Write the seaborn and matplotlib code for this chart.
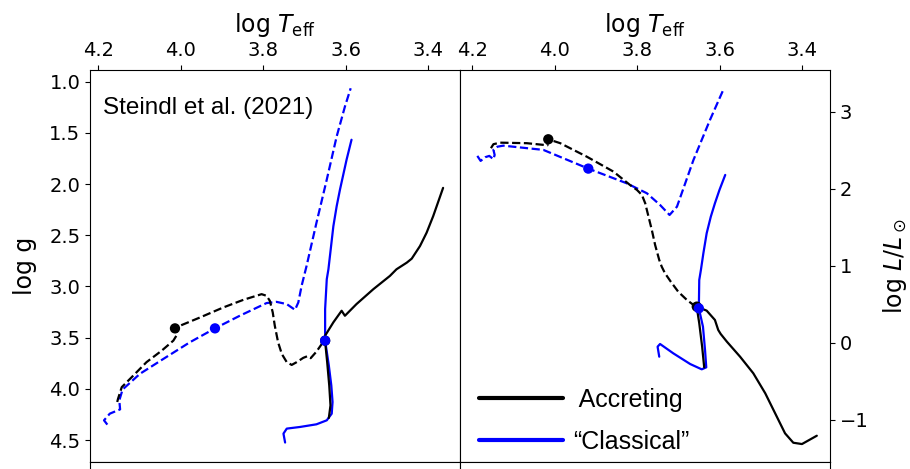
import numpy as np
import matplotlib
matplotlib.use('Agg')
import matplotlib.pyplot as plt
from matplotlib.lines import Line2D
import seaborn as sns

# ---- left panel: log Teff vs log g ----
# accreting model, dashed track
acc_dash_teff_g = [4.154, 4.152, 4.143, 4.115, 4.083, 4.046, 4.018, 4.008, 4.014, 3.998, 3.953, 3.897,
                   3.848, 3.804, 3.792, 3.784, 3.777, 3.772, 3.764, 3.755, 3.743, 3.731, 3.719, 3.703,
                   3.693, 3.685, 3.671, 3.658, 3.650]
acc_dash_logg = [4.128, 4.096, 3.983, 3.870, 3.739, 3.626, 3.529, 3.464, 3.409, 3.377, 3.302, 3.205,
                 3.130, 3.075, 3.091, 3.140, 3.253, 3.383, 3.545, 3.659, 3.739, 3.766, 3.739, 3.697,
                 3.681, 3.700, 3.636, 3.561, 3.529]
# accreting model, solid track
acc_sol_teff_g = [3.641, 3.637, 3.640, 3.645, 3.649, 3.650, 3.650, 3.630, 3.610, 3.602, 3.574, 3.533,
                  3.493, 3.477, 3.452, 3.440, 3.420, 3.404, 3.388, 3.364]
acc_sol_logg = [4.284, 4.161, 3.967, 3.739, 3.578, 3.529, 3.480, 3.350, 3.237, 3.286, 3.172, 3.026,
                2.897, 2.832, 2.767, 2.728, 2.605, 2.475, 2.313, 2.037]
# classical model, dashed track
cla_dash_teff_g = [4.178, 4.186, 4.172, 4.147, 4.149, 4.141, 4.099, 4.042, 3.978, 3.917, 3.857, 3.792,
                   3.768, 3.743, 3.723, 3.715, 3.707, 3.695, 3.671, 3.646, 3.622, 3.602, 3.588]
cla_dash_logg = [4.349, 4.307, 4.242, 4.200, 4.113, 4.006, 3.853, 3.707, 3.545, 3.409, 3.286, 3.162,
                 3.150, 3.172, 3.228, 3.156, 2.994, 2.800, 2.378, 1.956, 1.535, 1.243, 1.064]
# classical model, solid track
cla_sol_teff_g = [3.747, 3.751, 3.743, 3.711, 3.671, 3.646, 3.634, 3.632, 3.635, 3.641, 3.647, 3.650,
                  3.650, 3.646, 3.642, 3.630, 3.622, 3.614, 3.598, 3.586]
cla_sol_logg = [4.524, 4.437, 4.388, 4.372, 4.346, 4.307, 4.242, 4.128, 3.967, 3.772, 3.610, 3.529,
                3.221, 2.929, 2.832, 2.411, 2.216, 2.054, 1.762, 1.567]

# ---- right panel: log Teff vs log L ----
acc_dash_teff_L = [4.155, 4.149, 4.133, 4.068, 4.018, 4.016, 3.987, 3.923, 3.858, 3.818, 3.801, 3.789,
                   3.781, 3.773, 3.765, 3.757, 3.747, 3.741, 3.733, 3.719, 3.701, 3.680, 3.664, 3.656]
acc_dash_logL = [2.525, 2.577, 2.597, 2.590, 2.563, 2.641, 2.590, 2.416, 2.221, 2.048, 1.983, 1.918,
                 1.810, 1.636, 1.464, 1.269, 1.074, 0.987, 0.901, 0.792, 0.662, 0.555, 0.490, 0.468]
acc_sol_teff_L = [3.638, 3.643, 3.650, 3.655, 3.656, 3.632, 3.612, 3.604, 3.598, 3.583, 3.551, 3.519,
                  3.490, 3.466, 3.442, 3.422, 3.401, 3.365]
acc_sol_logL = [-0.320, -0.052, 0.252, 0.425, 0.468, 0.416, 0.295, 0.165, 0.113, 0.013, -0.182, -0.397,
                -0.657, -0.917, -1.177, -1.299, -1.316, -1.208]
cla_dash_teff_L = [4.188, 4.180, 4.169, 4.159, 4.149, 4.146, 4.149, 4.139, 4.125, 4.028, 3.919, 3.826,
                   3.777, 3.745, 3.722, 3.704, 3.664, 3.624, 3.590]
cla_dash_logL = [2.425, 2.360, 2.408, 2.425, 2.382, 2.438, 2.503, 2.545, 2.558, 2.503, 2.260, 2.070,
                 1.940, 1.788, 1.658, 1.766, 2.373, 2.892, 3.304]
cla_sol_teff_L = [3.747, 3.751, 3.745, 3.713, 3.672, 3.644, 3.633, 3.636, 3.641, 3.651, 3.650, 3.646,
                  3.640, 3.632, 3.622, 3.612, 3.601, 3.587]
cla_sol_logL = [-0.182, -0.052, -0.017, -0.138, -0.277, -0.346, -0.320, -0.095, 0.208, 0.446, 0.814,
                0.944, 1.161, 1.421, 1.636, 1.810, 1.983, 2.178]

# marked points (black = accreting, blue = classical)
dot_teff = [4.014, 3.650, 3.917, 3.650]
dot_logg = [3.409, 3.529, 3.409, 3.529]
dot_teff_L = [4.016, 3.656, 3.919, 3.651]
dot_logL = [2.641, 0.468, 2.260, 0.446]
dot_col = ['black', 'black', 'blue', 'blue']

sns.set_style('ticks', rc={'axes.edgecolor': 'black', 'xtick.color': 'black', 'ytick.color': 'black',
                           'text.color': 'black', 'axes.labelcolor': 'black'})
plt.rcParams['font.family'] = ['DejaVu Sans']
plt.rcParams['mathtext.fontset'] = 'dejavusans'

fig = plt.figure(figsize=(9.1, 4.69), dpi=100)
ax1 = fig.add_axes([0.0989, 0.0156, 0.4066, 0.8351])
ax2 = fig.add_axes([0.5055, 0.0156, 0.4066, 0.8351])
# panels below, cut off by the figure edge
for x0 in (0.0989, 0.5055):
    axb = fig.add_axes([x0, -0.3, 0.4066, 0.3156])
    axb.set_xticks([])
    axb.set_yticks([])


def track(ax, x, y, color, ls):
    sns.lineplot(x=x, y=y, ax=ax, color=color, linestyle=ls, lw=1.6, sort=False, estimator=None)


track(ax1, cla_dash_teff_g, cla_dash_logg, 'blue', '--')
track(ax1, acc_dash_teff_g, acc_dash_logg, 'black', '--')
track(ax1, cla_sol_teff_g, cla_sol_logg, 'blue', '-')
track(ax1, acc_sol_teff_g, acc_sol_logg, 'black', '-')
sns.scatterplot(x=dot_teff, y=dot_logg, ax=ax1, color=dot_col, s=55, linewidth=0, zorder=5)

track(ax2, cla_dash_teff_L, cla_dash_logL, 'blue', '--')
track(ax2, acc_dash_teff_L, acc_dash_logL, 'black', '--')
track(ax2, cla_sol_teff_L, cla_sol_logL, 'blue', '-')
track(ax2, acc_sol_teff_L, acc_sol_logL, 'black', '-')
sns.scatterplot(x=dot_teff_L, y=dot_logL, ax=ax2, color=dot_col, s=55, linewidth=0, zorder=5)

ax1.set_xlim(4.22, 3.323)
ax1.set_ylim(4.711, 0.886)
ax2.set_xlim(4.23, 3.333)
ax2.set_ylim(-1.545, 3.54)

for ax in (ax1, ax2):
    ax.xaxis.tick_top()
    ax.xaxis.set_label_position('top')
    ax.set_xticks([4.2, 4.0, 3.8, 3.6, 3.4])
    ax.set_xlabel(r'log $T_{\rm eff}$', fontsize=17, labelpad=7)
    ax.tick_params(labelsize=14)

ax1.set_yticks([1.0, 1.5, 2.0, 2.5, 3.0, 3.5, 4.0, 4.5])
ax1.set_ylabel('log g', fontsize=17, labelpad=9)
ax2.yaxis.tick_right()
ax2.yaxis.set_label_position('right')
ax2.set_yticks([-1, 0, 1, 2, 3])
ax2.set_ylabel(r'log $L/L_\odot$', fontsize=17, labelpad=9)

ax1.text(0.035, 0.903, 'Steindl et al. (2021)', transform=ax1.transAxes,
         family='Liberation Sans', fontsize=17.5, va='center')

handles = [Line2D([], [], color='black', lw=3), Line2D([], [], color='blue', lw=3)]
ax2.legend(handles, [' Accreting', '\u201cClassical\u201d'], loc='lower left', frameon=False,
           bbox_to_anchor=(0.024, -0.005), borderaxespad=0,
           prop={'family': 'Liberation Sans', 'size': 18}, handlelength=3.35,
           handletextpad=0.4, labelspacing=0.72)

fig.savefig('out.png', dpi=100)
